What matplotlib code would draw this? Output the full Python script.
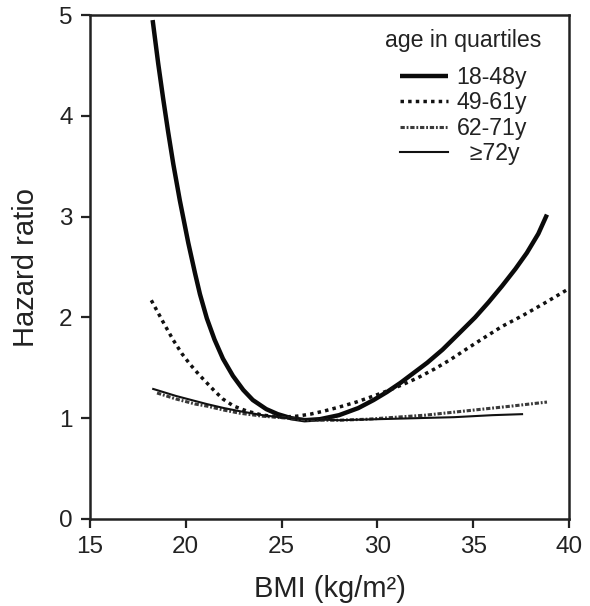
import matplotlib
matplotlib.use("Agg")
import matplotlib.pyplot as plt

plt.rcParams['font.family'] = ['Liberation Sans', 'DejaVu Sans']

# ---- data ----
bmi_18_48 = [18.27, 18.56, 18.82, 19.08, 19.35, 19.69, 20.13, 20.48, 20.74, 21.1, 21.5, 21.94,
             22.46, 23.0, 23.5, 24.2, 24.8, 25.5, 26.2, 27.0, 28.0, 29.0, 29.8, 30.5, 31.2,
             31.9, 32.6, 33.4, 34.2, 35.1, 35.8, 36.5, 37.2, 37.8, 38.4, 38.85]
hr_18_48 = [4.95, 4.52, 4.17, 3.84, 3.52, 3.16, 2.74, 2.44, 2.23, 1.99, 1.78, 1.59,
            1.42, 1.28, 1.18, 1.09, 1.04, 1.00, 0.98, 0.99, 1.03, 1.10, 1.18, 1.26, 1.35,
            1.45, 1.55, 1.68, 1.83, 2.00, 2.15, 2.31, 2.48, 2.64, 2.83, 3.02]

bmi_49_61 = [18.2, 18.8, 19.33, 19.8, 20.2, 20.7, 21.1, 21.5, 21.94, 22.5, 23.2, 24.0, 25.0,
             25.8, 26.5, 27.2, 28.0, 28.9, 29.8, 30.65, 31.4, 32.1, 33.0, 33.8, 34.6, 35.5,
             36.5, 37.6, 38.8, 39.95]
hr_49_61 = [2.17, 1.96, 1.78, 1.64, 1.54, 1.43, 1.35, 1.27, 1.19, 1.12, 1.07, 1.03, 1.01,
            1.02, 1.04, 1.07, 1.11, 1.16, 1.22, 1.28, 1.34, 1.40, 1.49, 1.58, 1.68, 1.79,
            1.91, 2.02, 2.15, 2.28]

bmi_62_71 = [18.5, 19.5, 20.5, 21.1, 22.0, 22.8, 24.0, 25.3, 26.5, 28.0, 29.5, 31.0, 32.5,
             34.0, 35.5, 37.0, 38.85]
hr_62_71 = [1.25, 1.19, 1.14, 1.12, 1.08, 1.05, 1.02, 1.00, 0.98, 0.98, 0.99, 1.01, 1.03,
            1.06, 1.09, 1.12, 1.16]

bmi_72 = [18.3, 19.5, 20.5, 21.1, 22.0, 22.8, 24.0, 25.3, 26.5, 28.0, 30.0, 32.0, 34.0,
          36.0, 37.55]
hr_72 = [1.29, 1.22, 1.17, 1.14, 1.10, 1.07, 1.03, 1.00, 0.99, 0.98, 0.99, 1.00, 1.01,
         1.03, 1.04]

series_labels = ['18-48y', '49-61y', '62-71y', '  \u226572y']
legend_title = 'age in quartiles'
x_ticks = [15, 20, 25, 30, 35, 40]
y_ticks = [0, 1, 2, 3, 4, 5]

# ---- figure ----
fig = plt.figure(figsize=(5.90, 6.06), dpi=100)
ax = fig.add_axes([0.1525, 0.1436, 0.8119, 0.8316])

ax.plot(bmi_18_48, hr_18_48, color='#0a0a0a', lw=3.2, solid_capstyle='butt',
        solid_joinstyle='round', label=series_labels[0])
ax.plot(bmi_49_61, hr_49_61, color='#111111', lw=2.5, linestyle=(0, (1, 1.2)),
        dash_capstyle='butt', label=series_labels[1])
ax.plot(bmi_62_71, hr_62_71, color='#3a3a3a', lw=2.2, linestyle=(0, (1.4, 0.6, 0.6, 0.6)),
        dash_capstyle='butt', label=series_labels[2])
ax.plot(bmi_72, hr_72, color='#111111', lw=1.5, label=series_labels[3])

ax.set_xlim(15, 40)
ax.set_ylim(0, 5)
ax.set_xticks(x_ticks)
ax.set_yticks(y_ticks)
ax.tick_params(direction='out', length=6.5, width=1.6, labelsize=17.5, colors='#222222',
               pad=6)
for s in ax.spines.values():
    s.set_linewidth(1.8)
    s.set_color('#222222')

ax.set_xlabel('BMI (kg/m\u00b2)', fontsize=21, color='#222222', labelpad=12)
ax.set_ylabel('Hazard ratio', fontsize=21, color='#222222', labelpad=14)

leg = ax.legend(title=legend_title, loc='upper right', bbox_to_anchor=(0.943, 0.972),
                frameon=False, fontsize=16.7, title_fontsize=16.7, handlelength=2.07,
                handletextpad=0.39, labelspacing=0.1, borderaxespad=0.0, borderpad=0.0)
leg._legend_box.sep = 10
leg.get_title().set_color('#222222')
for t in leg.get_texts():
    t.set_color('#222222')

fig.savefig('out.png', dpi=100, facecolor='white')
